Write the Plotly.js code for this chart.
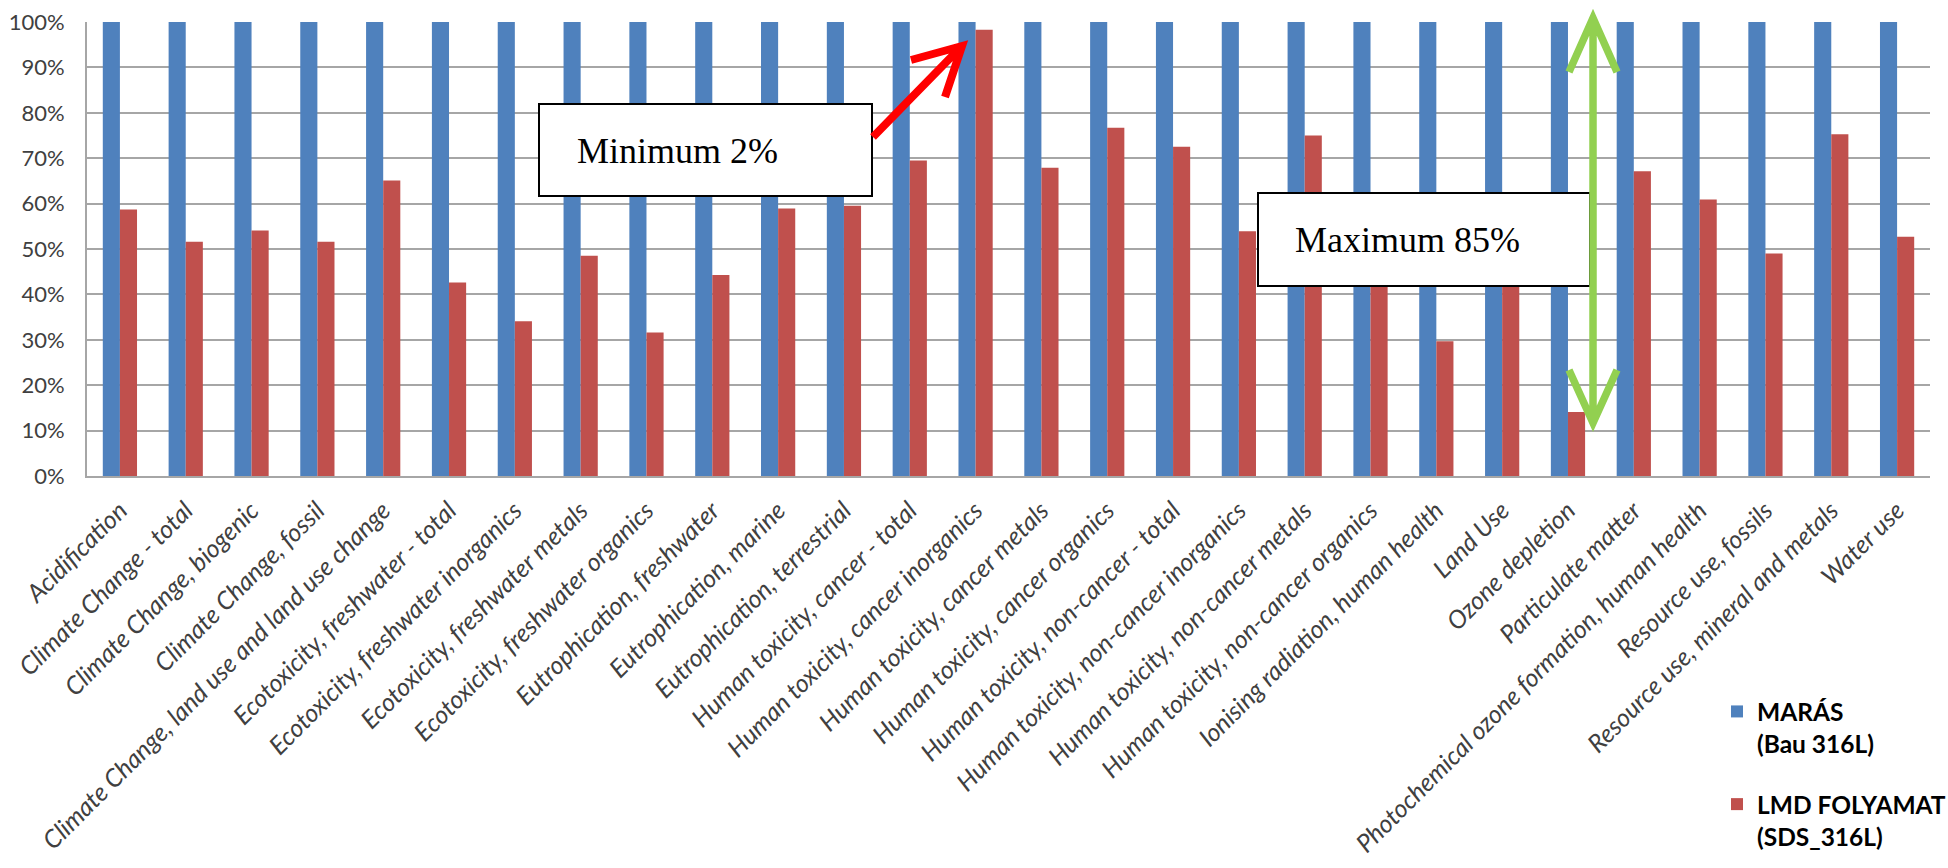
<!DOCTYPE html>
<html>
<head>
<meta charset="utf-8">
<script src="https://cdn.plot.ly/plotly-3.0.1.min.js"></script>
<style>
  html, body { margin: 0; padding: 0; background: #ffffff; }
  #chart { width: 1948px; height: 868px; }
</style>
</head>
<body>
<div id="chart"></div>
<script>
// ---- data ----
const categories = [
  "Acidification",
  "Climate Change - total",
  "Climate Change, biogenic",
  "Climate Change, fossil",
  "Climate Change, land use and land use change",
  "Ecotoxicity, freshwater - total",
  "Ecotoxicity, freshwater inorganics",
  "Ecotoxicity, freshwater metals",
  "Ecotoxicity, freshwater organics",
  "Eutrophication, freshwater",
  "Eutrophication, marine",
  "Eutrophication, terrestrial",
  "Human toxicity, cancer - total",
  "Human toxicity, cancer inorganics",
  "Human toxicity, cancer metals",
  "Human toxicity, cancer organics",
  "Human toxicity, non-cancer - total",
  "Human toxicity, non-cancer inorganics",
  "Human toxicity, non-cancer metals",
  "Human toxicity, non-cancer organics",
  "Ionising radiation, human health",
  "Land Use",
  "Ozone depletion",
  "Particulate matter",
  "Photochemical ozone formation, human health",
  "Resource use, fossils",
  "Resource use, mineral and metals",
  "Water use"
];
const marasValues = [100, 100, 100, 100, 100, 100, 100, 100, 100, 100, 100, 100, 100, 100,
                     100, 100, 100, 100, 100, 100, 100, 100, 100, 100, 100, 100, 100, 100];
const lmdValues = [58.7, 51.6, 54.1, 51.6, 65.1, 42.6, 34.1, 48.5, 31.6, 44.3, 58.9, 59.5, 69.5, 98.3,
                   67.9, 76.7, 72.5, 53.9, 75.0, 44.0, 29.7, 43.0, 14.1, 67.1, 60.9, 49.0, 75.3, 52.7];
const seriesNames = ["MARÁS<br>(Bau 316L)", "LMD FOLYAMAT<br>(SDS_316L)"];
const yTickVals = [0, 10, 20, 30, 40, 50, 60, 70, 80, 90, 100];
const yTickText = ["0%", "10%", "20%", "30%", "40%", "50%", "60%", "70%", "80%", "90%", "100%"];
const noteMin = "Minimum 2%";
const noteMax = "Maximum 85%";

// ---- layout geometry (pixels) ----
const W = 1948, H = 868;
const PL = 87, PR = 1930, PT = 22, PB = 476;
function px(x) { return (x - PL) / (PR - PL); }
function py(y) { return (PB - y) / (PB - PT); }
function path(pts) {
  return pts.map(function (seg) {
    return seg.map(function (p, i) {
      return (i === 0 ? "M" : "L") + px(p[0]).toFixed(5) + "," + py(p[1]).toFixed(5);
    }).join(" ");
  }).join(" ");
}

const blue = "#4F81BD";
const red = "#C0504D";
const tickFont = "Lato, 'Open Sans', sans-serif";

const traces = [
  {
    type: "bar", x: categories, y: marasValues, name: seriesNames[0],
    marker: { color: blue }, legendgroup: "a", hoverinfo: "x+y"
  },
  {
    type: "bar", x: categories, y: lmdValues, name: seriesNames[1],
    marker: { color: red }, legendgroup: "b", hoverinfo: "x+y"
  }
];

const shapes = [
  // Minimum box
  { type: "rect", xref: "paper", yref: "paper", layer: "above",
    x0: px(539), x1: px(872), y0: py(196), y1: py(104),
    line: { color: "#000000", width: 2 }, fillcolor: "#ffffff" },
  // Maximum box
  { type: "rect", xref: "paper", yref: "paper", layer: "above",
    x0: px(1258), x1: px(1590), y0: py(286), y1: py(193),
    line: { color: "#000000", width: 2 }, fillcolor: "#ffffff" },
  // red arrow
  { type: "path", xref: "paper", yref: "paper", layer: "above",
    path: path([[[873, 137], [960, 48]], [[911, 60], [962, 46], [945, 97]]]),
    line: { color: "#FF0000", width: 8 } },
  // green double arrow
  { type: "path", xref: "paper", yref: "paper", layer: "above",
    path: path([[[1593, 22], [1593, 419]], [[1569, 72], [1593, 18], [1617, 72]], [[1569, 370], [1593, 423], [1617, 370]]]),
    line: { color: "#92D050", width: 7.5 } }
];

const annotations = [
  { xref: "paper", yref: "paper", x: px(575), y: py(151), xanchor: "left", yanchor: "middle",
    text: noteMin, showarrow: false,
    font: { family: "'Liberation Serif', 'Times New Roman', serif", size: 36, color: "#000000" } },
  { xref: "paper", yref: "paper", x: px(1293), y: py(240), xanchor: "left", yanchor: "middle",
    text: noteMax, showarrow: false,
    font: { family: "'Liberation Serif', 'Times New Roman', serif", size: 36, color: "#000000" } }
];

const layout = {
  width: W, height: H,
  margin: { l: PL, r: W - PR, t: PT, b: H - PB, pad: 0, autoexpand: false },
  paper_bgcolor: "#ffffff", plot_bgcolor: "#ffffff",
  barmode: "group", bargap: 0.48, bargroupgap: 0,
  showlegend: true,
  legend: {
    xref: "container", yref: "container",
    x: 1717 / W, y: (H - 689) / H, xanchor: "left", yanchor: "top",
    font: { family: "Lato, 'Liberation Sans', sans-serif", size: 24.5, color: "#000000", weight: "bold" },
    traceorder: "grouped", tracegroupgap: 26, valign: "top",
    bgcolor: "rgba(0,0,0,0)", borderwidth: 0, itemwidth: 30
  },
  xaxis: {
    type: "category", automargin: false,
    tickangle: -45, ticks: "", ticklabelstandoff: 8,
    tickfont: { family: tickFont, size: 25, color: "#404040", style: "italic" },
    showline: true, linecolor: "#A6A6A6", linewidth: 2,
    showgrid: false, zeroline: false
  },
  yaxis: {
    range: [0, 100], tickmode: "array", tickvals: yTickVals, ticktext: yTickText, automargin: false,
    ticks: "", ticklabelstandoff: 16,
    tickfont: { family: tickFont, size: 22, color: "#404040" },
    showline: true, linecolor: "#A6A6A6", linewidth: 2,
    showgrid: true, gridcolor: "#A6A6A6", gridwidth: 1.5,
    zeroline: false
  },
  shapes: shapes,
  annotations: annotations
};

Plotly.newPlot("chart", traces, layout, { displayModeBar: false, responsive: false });
</script>
</body>
</html>
